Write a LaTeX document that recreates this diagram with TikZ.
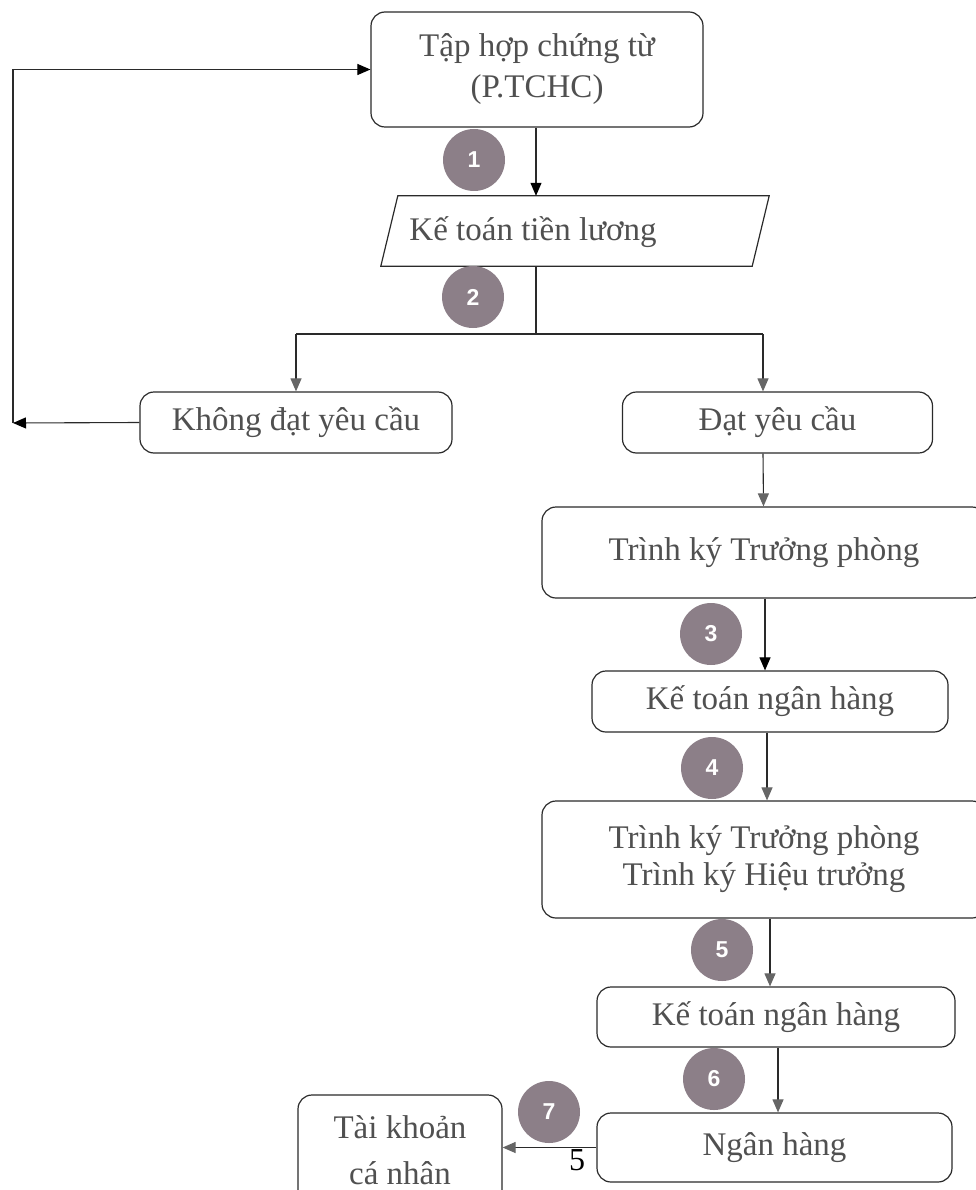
\documentclass[tikz,border=0pt]{standalone}
\usepackage{fontspec}
\setmainfont{Liberation Serif}
\newfontfamily\numfont{Liberation Sans}
\usetikzlibrary{arrows.meta}
\definecolor{txt}{HTML}{505050}
\definecolor{edge}{HTML}{2A2A2A}
\definecolor{badge}{HTML}{8C7F88}
\definecolor{tipgray}{HTML}{666666}
\tikzset{
  box/.style={draw=edge, line width=1.2pt, rounded corners=14pt, inner sep=0pt,
    text=txt, align=center, font=\fontsize{33}{41}\selectfont},
  plain/.style={inner sep=0pt, text=txt, align=center, font=\fontsize{33}{41}\selectfont},
  badgenode/.style={circle, fill=badge, minimum size=62pt, inner sep=0pt,
    text=white, font=\numfont\bfseries\fontsize{23}{27}\selectfont},
  link/.style={draw=edge, line width=1.1pt},
  arrblack/.style={link, -{Triangle[length=13pt,width=11pt,color=black]}},
  arrgray/.style={link, -{Triangle[length=13pt,width=11pt,color=tipgray]}}
}
\begin{document}
\begin{tikzpicture}[x=1pt,y=-1pt]
\useasboundingbox (0,0) rectangle (976,1190);

% boxes
\node[box, minimum width=332pt, minimum height=115pt] (tap) at (537,69.5)
  {Tập hợp chứng từ\\(P.TCHC)};
\node[inner sep=0pt, minimum width=388pt, minimum height=70pt] (ketoan) at (575,231) {};
\draw[edge, line width=1.2pt] ([xshift=17pt]ketoan.north west) -- (ketoan.north east)
  -- ([xshift=-17pt]ketoan.south east) -- (ketoan.south west) -- cycle;
\node[plain] (ketoanlbl) at (533,232) {Kế toán tiền lương};
\node[box, minimum width=312pt, minimum height=61pt] (khong) at (296,422.5) {Không đạt yêu cầu};
\node[box, minimum width=310pt, minimum height=61pt] (dat) at (777.5,422.5) {Đạt yêu cầu};
\node[box, minimum width=444pt, minimum height=91pt] (trinh1) at (764,552.5) {Trình ký Trưởng phòng};
\node[box, minimum width=356pt, minimum height=61pt] (nh1) at (770,701.5) {Kế toán ngân hàng};
\node[box, minimum width=444pt, minimum height=117pt, font=\fontsize{33}{37}\selectfont] (trinh2) at (764,859.5)
  {Trình ký Trưởng phòng\\Trình ký Hiệu trưởng};
\node[box, minimum width=358pt, minimum height=60pt] (nh2) at (776,1017) {Kế toán ngân hàng};
\node[box, minimum width=355pt, minimum height=69pt] (nganhang) at (774.5,1147.5) {Ngân hàng};
\node[box, minimum width=204pt, minimum height=110pt, font=\fontsize{33}{46}\selectfont] (taikhoan) at (400,1150)
  {Tài khoản\\cá nhân};

% step badges
\node[badgenode] (s1) at (474,160) {1};
\node[badgenode] (s2) at (473,297) {2};
\node[badgenode] (s3) at (711,634) {3};
\node[badgenode] (s4) at (712,768) {4};
\node[badgenode] (s5) at (722,950) {5};
\node[badgenode] (s6) at (714,1079) {6};
\node[badgenode] (s7) at (549,1112) {7};

% connectors
\coordinate (split) at (536,334);
\coordinate (loop) at (13,423);
\draw[arrblack] ([xshift=-1pt]tap.south) -- ([xshift=-39pt]ketoan.north);
\draw[link] ([xshift=-39pt]ketoan.south) -- (split);
\draw[link] (khong.north |- split) -- ([xshift=-14.5pt]dat.north |- split);
\draw[arrgray] (khong.north |- split) -- (khong.north);
\draw[arrgray] ([xshift=-14.5pt]dat.north |- split) -- ([xshift=-14.5pt]dat.north);
\draw[arrblack] (khong.west) -- (loop);
\draw[arrblack] (loop) |- (tap.west);
\draw[arrgray] ([xshift=-14.5pt]dat.south) -- ([xshift=-0.5pt]trinh1.north);
\draw[arrblack] ([xshift=1pt]trinh1.south) -- ([xshift=-5pt]nh1.north);
\draw[arrgray] ([xshift=-3pt]nh1.south) -- ([xshift=3pt]trinh2.north);
\draw[arrgray] ([xshift=6pt]trinh2.south) -- ([xshift=-6pt]nh2.north);
\draw[arrgray] ([xshift=2pt]nh2.south) -- ([xshift=3.5pt]nganhang.north);
\draw[arrgray] (nganhang.west) -- (nganhang.west -| taikhoan.east);

% stray page number
\node[inner sep=0pt, font=\fontsize{32}{40}\selectfont] (pgnum) at (577,1160) {5};
\end{tikzpicture}
\end{document}
